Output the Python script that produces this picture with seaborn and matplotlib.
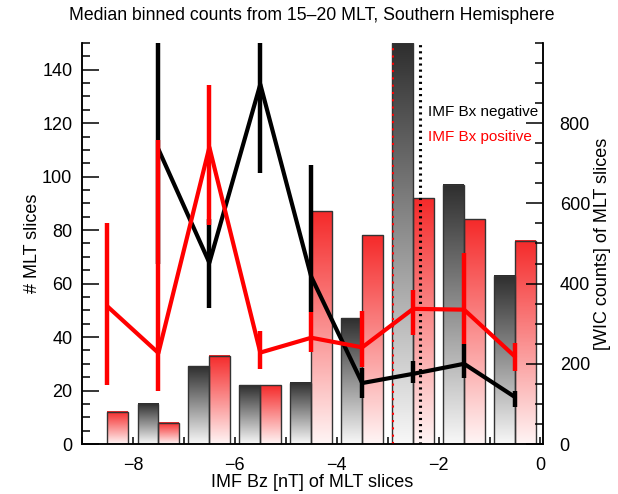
import numpy as np
import pandas as pd
import matplotlib
matplotlib.use('Agg')
import matplotlib.pyplot as plt
import seaborn as sns
from matplotlib.colors import LinearSegmentedColormap
from matplotlib.patches import Rectangle
from matplotlib.ticker import MultipleLocator

# ---------- data ----------
bz_bins = [-8.5, -7.5, -6.5, -5.5, -4.5, -3.5, -2.5, -1.5, -0.5]

# number of MLT slices per bin (left axis)
n_neg = [0, 15, 29, 22, 23, 47, 150, 97, 63]
n_pos = [12, 8, 33, 22, 87, 78, 92, 84, 76]

# median WIC counts and spread (right axis)
med_neg = [np.nan, 735, 452, 897, 417, 152, 175, 200, 117]
lo_neg = [np.nan, 450, 340, 675, 330, 115, 152, 165, 92]
hi_neg = [np.nan, 1060, 560, 1030, 695, 190, 207, 250, 132]

med_pos = [343, 227, 740, 228, 265, 241, 337, 335, 218]
lo_pos = [148, 131, 547, 187, 230, 191, 272, 250, 181]
hi_pos = [550, 757, 895, 282, 330, 332, 385, 477, 252]

# median Bz of each group (dotted lines)
bz_med_neg = -2.36
bz_med_pos = -2.90

df = pd.DataFrame({'bz': bz_bins * 2,
                   'counts': med_neg + med_pos,
                   'bx': ['negative'] * 9 + ['positive'] * 9})

# ---------- plot ----------
sns.set_style('ticks')
plt.rcParams['font.family'] = ['Liberation Sans', 'DejaVu Sans']
plt.rcParams.update({'axes.linewidth': 1.1, 'axes.edgecolor': 'black',
                     'text.color': 'black', 'axes.labelcolor': 'black',
                     'xtick.color': 'black', 'ytick.color': 'black'})

fig = plt.figure(figsize=(6.18, 4.94), dpi=100)
ax = fig.add_axes([0.1327, 0.1012, 0.746, 0.8118])

cmap_neg = LinearSegmentedColormap.from_list('neg', ['#f8f8f8', '#2e2e2e'])
cmap_pos = LinearSegmentedColormap.from_list('pos', ['#fff5f5', '#f52a2a'])
grad = np.linspace(0, 1, 256).reshape(-1, 1)
w = 0.41
for c, hn, hp in zip(bz_bins, n_neg, n_pos):
    for x0, h, cm in [(c - w, hn, cmap_neg), (c, hp, cmap_pos)]:
        if h <= 0:
            continue
        ax.imshow(grad, extent=[x0, x0 + w, 0, h], origin='lower', cmap=cm,
                  aspect='auto', interpolation='bilinear', zorder=1)
        ax.add_patch(Rectangle((x0, 0), w, h, fill=False, ec='#333333',
                               lw=1.0, zorder=2))

ax.axvline(bz_med_pos, color='red', ls=(0, (1, 2.5)), lw=1.5, zorder=3)
ax.axvline(bz_med_neg, color='black', ls=(0, (0.7, 1.3)), lw=2.2, zorder=3)

ax.set_xlim(-9, 0.05)
ax.set_ylim(0, 150)
ax.set_xticks([-8, -6, -4, -2, 0])
ax.set_xticklabels(['\u22128', '\u22126', '\u22124', '\u22122', '0'])
ax.xaxis.set_minor_locator(MultipleLocator(1))
ax.set_yticks(range(0, 141, 20))
ax.yaxis.set_minor_locator(MultipleLocator(5))
ax.tick_params(axis='both', which='both', direction='in', labelsize=13,
               width=1.1, top=False, right=False)
ax.tick_params(axis='y', which='major', length=12, pad=7)
ax.tick_params(axis='y', which='minor', length=6)
ax.tick_params(axis='x', which='both', length=5, pad=9)
ax.spines['top'].set_visible(False)

ax.set_xlabel('IMF Bz [nT] of MLT slices', fontsize=13)
ax.xaxis.set_label_coords(0.499, -0.095)
ax.xaxis.label.set_va('center')
ax.set_ylabel('# MLT slices', fontsize=13)
ax.yaxis.set_label_coords(-0.108, 0.5)
ax.yaxis.label.set_va('center')

ax2 = ax.twinx()
ax2.set_ylim(0, 1000)
ax2.set_yticks(range(0, 801, 200))
ax2.yaxis.set_minor_locator(MultipleLocator(50))
ax2.tick_params(axis='y', which='both', direction='in', labelsize=13, width=1.1)
ax2.tick_params(axis='y', which='major', length=12, pad=12)
ax2.tick_params(axis='y', which='minor', length=6)
ax2.spines['top'].set_visible(False)

neg = df[df['bx'] == 'negative']
pos = df[df['bx'] == 'positive']
sns.lineplot(data=neg, x='bz', y='counts', color='black', lw=3, ax=ax2,
             estimator=None, sort=False, legend=False, zorder=4)
ax2.vlines(bz_bins, lo_neg, hi_neg, colors='black', lw=3.2, zorder=5)
sns.lineplot(data=pos, x='bz', y='counts', color='red', lw=3, ax=ax2,
             estimator=None, sort=False, legend=False, zorder=6)
ax2.vlines(bz_bins, lo_pos, hi_pos, colors='red', lw=3.2, zorder=7)

ax2.set_xlim(-9, 0.05)
ax2.set_ylim(0, 1000)
ax2.set_ylabel('[WIC counts] of MLT slices', fontsize=13)
ax2.yaxis.set_label_coords(1.13, 0.5)
ax2.yaxis.label.set_va('center')

ax2.text(-2.2, 827, 'IMF Bx negative', color='black', fontsize=11, va='center')
ax2.text(-2.2, 765, 'IMF Bx positive', color='red', fontsize=11, va='center')

fig.text(0.505, 1 - 16 / 494, 'Median binned counts from 15\u201320 MLT, Southern Hemisphere',
         ha='center', va='center', fontsize=12.7)

fig.savefig('out.png', dpi=100)
